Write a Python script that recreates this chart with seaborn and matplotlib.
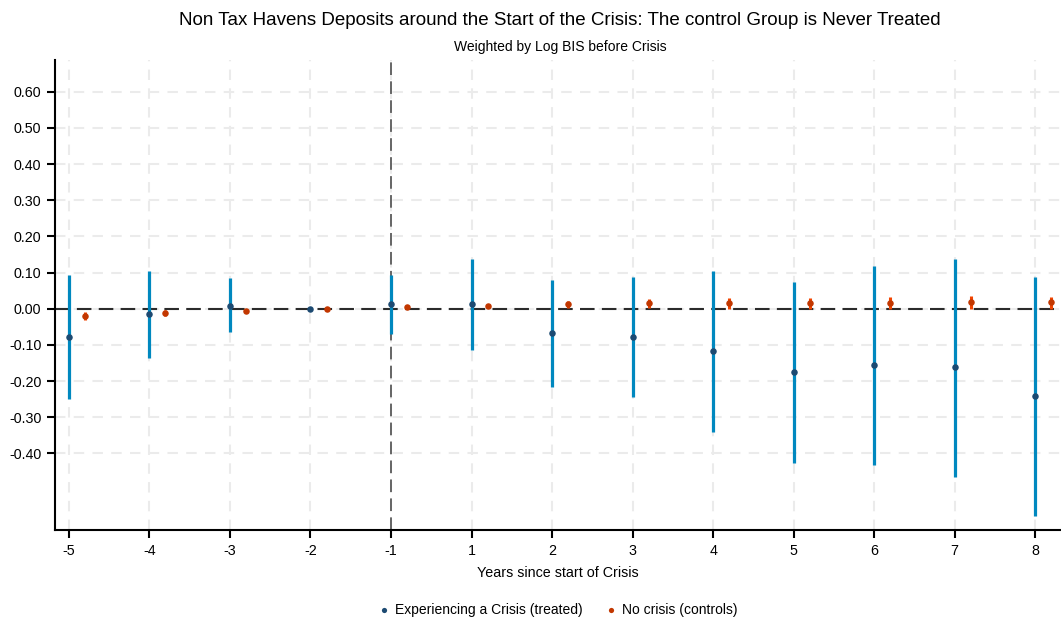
import numpy as np
import pandas as pd
import matplotlib.pyplot as plt
import seaborn as sns

# event-time categories
years = ['-5', '-4', '-3', '-2', '-1', '1', '2', '3', '4', '5', '6', '7', '8']

# treated: point estimate and 95% CI
treat_b = [-0.077, -0.014, 0.008, 0.0, 0.012, 0.013, -0.068, -0.079, -0.117, -0.174, -0.155, -0.162, -0.241]
treat_lo = [-0.249, -0.135, -0.065, 0.0, -0.069, -0.113, -0.215, -0.245, -0.342, -0.425, -0.431, -0.465, -0.572]
treat_hi = [0.094, 0.105, 0.086, 0.0, 0.094, 0.138, 0.080, 0.088, 0.105, 0.075, 0.119, 0.138, 0.088]

# controls
ctrl_b = [-0.020, -0.011, -0.005, 0.0, 0.004, 0.008, 0.012, 0.015, 0.015, 0.015, 0.017, 0.018, 0.018]
ctrl_lo = [-0.031, -0.019, -0.009, 0.0, 0.001, 0.004, 0.002, 0.001, 0.000, 0.000, 0.000, 0.000, 0.000]
ctrl_hi = [-0.009, -0.003, -0.001, 0.0, 0.007, 0.012, 0.021, 0.027, 0.030, 0.030, 0.033, 0.036, 0.033]

ytick_vals = [-0.4, -0.3, -0.2, -0.1, 0.0, 0.1, 0.2, 0.3, 0.4, 0.5, 0.6]

pos = np.arange(len(years))
df_t = pd.DataFrame({'x': pos, 'b': treat_b, 'lo': treat_lo, 'hi': treat_hi})
df_c = pd.DataFrame({'x': pos + 0.2, 'b': ctrl_b, 'lo': ctrl_lo, 'hi': ctrl_hi})

sns.set_theme(style='white')
plt.rcParams['font.family'] = ['Liberation Sans', 'DejaVu Sans']
plt.rcParams['text.color'] = 'black'

fig = plt.figure(figsize=(10.61, 6.23), dpi=100)
ax = fig.add_axes([0.052, 0.149, 0.948, 0.755])

grid_c = '#ebebeb'
for yv in ytick_vals:
    ax.axhline(yv, color=grid_c, lw=1.5, dashes=(5, 4), zorder=0)
for xv in pos:
    ax.axvline(xv, color=grid_c, lw=1.5, dashes=(5, 4), zorder=0)

ax.axhline(0, color='#2b2b2b', lw=1.5, dashes=(7, 3.5), zorder=1)
ax.axvline(4, color='#5a5a5a', lw=1.3, dashes=(7, 3.5), zorder=1)

ax.vlines(df_t['x'], df_t['lo'], df_t['hi'], color='#0088bf', lw=2.3, zorder=2)
ax.vlines(df_c['x'], df_c['lo'], df_c['hi'], color='#f24400', lw=2.2, zorder=2)

sns.scatterplot(data=df_t, x='x', y='b', color='#1d4a72', s=22, linewidth=0,
                ax=ax, zorder=3, label='Experiencing a Crisis (treated)')
sns.scatterplot(data=df_c, x='x', y='b', color='#c23700', s=22, linewidth=0,
                ax=ax, zorder=3, label='No crisis (controls)')

ax.set_xlim(-0.17, 12.32)
ax.set_ylim(-0.612, 0.688)
ax.set_xticks(pos)
ax.set_xticklabels(years)
ax.set_yticks(ytick_vals)
ax.set_yticklabels(['%.2f' % v for v in ytick_vals])
ax.tick_params(axis='both', which='both', direction='out', length=6, width=1.5,
               color='black', labelcolor='black', labelsize=10.3, bottom=True, left=True, pad=4)

sns.despine(ax=ax)
for s in ['left', 'bottom']:
    ax.spines[s].set_color('black')
    ax.spines[s].set_linewidth(1.5)

ax.set_xlabel('Years since start of Crisis', fontsize=10.3, labelpad=6, color='black')
ax.set_ylabel('')

fig.text(0.528, 0.967, 'Non Tax Havens Deposits around the Start of the Crisis: The control Group is Never Treated',
         ha='center', va='center', fontsize=13.5)
fig.text(0.528, 0.925, 'Weighted by Log BIS before Crisis', ha='center', va='center', fontsize=10)

ax.legend(loc='center', bbox_to_anchor=(0.5, -0.17), ncol=2, frameon=False,
          fontsize=10, markerscale=0.8, handlelength=0.8, handletextpad=0.4, columnspacing=1.6)

fig.savefig('out.png', dpi=100)
